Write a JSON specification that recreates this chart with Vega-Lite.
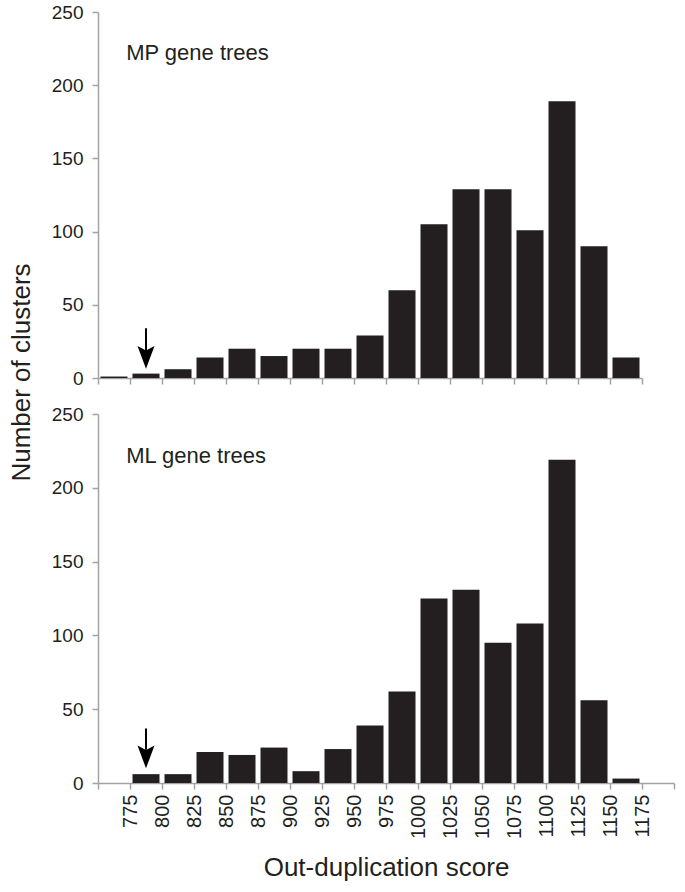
{
  "$schema": "https://vega.github.io/schema/vega-lite/v6.json",
  "background": "white",
  "padding": {"left": 8, "top": 3, "right": 5, "bottom": 5},
  "bounds": "flush",
  "spacing": 36,
  "config": {
    "font": "Liberation Sans",
    "view": {"stroke": null},
    "axis": {
      "grid": false,
      "domainColor": "#a3a3a3",
      "tickColor": "#a3a3a3",
      "domainWidth": 1.5,
      "tickWidth": 1.5,
      "tickSize": 6,
      "labelColor": "#231f20",
      "titleColor": "#231f20",
      "labelFont": "Liberation Sans",
      "titleFont": "Liberation Sans",
      "labelFontSize": 19,
      "titleFontSize": 26,
      "titleFontWeight": "normal"
    }
  },
  "datasets": {
    "mp": [
      {"start": 750, "end": 775, "clusters": 1},
      {"start": 775, "end": 800, "clusters": 3},
      {"start": 800, "end": 825, "clusters": 6},
      {"start": 825, "end": 850, "clusters": 14},
      {"start": 850, "end": 875, "clusters": 20},
      {"start": 875, "end": 900, "clusters": 15},
      {"start": 900, "end": 925, "clusters": 20},
      {"start": 925, "end": 950, "clusters": 20},
      {"start": 950, "end": 975, "clusters": 29},
      {"start": 975, "end": 1000, "clusters": 60},
      {"start": 1000, "end": 1025, "clusters": 105},
      {"start": 1025, "end": 1050, "clusters": 129},
      {"start": 1050, "end": 1075, "clusters": 129},
      {"start": 1075, "end": 1100, "clusters": 101},
      {"start": 1100, "end": 1125, "clusters": 189},
      {"start": 1125, "end": 1150, "clusters": 90},
      {"start": 1150, "end": 1175, "clusters": 14}
    ],
    "ml": [
      {"start": 775, "end": 800, "clusters": 6},
      {"start": 800, "end": 825, "clusters": 6},
      {"start": 825, "end": 850, "clusters": 21},
      {"start": 850, "end": 875, "clusters": 19},
      {"start": 875, "end": 900, "clusters": 24},
      {"start": 900, "end": 925, "clusters": 8},
      {"start": 925, "end": 950, "clusters": 23},
      {"start": 950, "end": 975, "clusters": 39},
      {"start": 975, "end": 1000, "clusters": 62},
      {"start": 1000, "end": 1025, "clusters": 125},
      {"start": 1025, "end": 1050, "clusters": 131},
      {"start": 1050, "end": 1075, "clusters": 95},
      {"start": 1075, "end": 1100, "clusters": 108},
      {"start": 1100, "end": 1125, "clusters": 219},
      {"start": 1125, "end": 1150, "clusters": 56},
      {"start": 1150, "end": 1175, "clusters": 3}
    ],
    "one": [{}]
  },
  "vconcat": [
    {
      "width": 544,
      "height": 366,
      "layer": [
        {
          "data": {"name": "mp"},
          "mark": {"type": "bar", "color": "#231f20", "xOffset": 2.5, "x2Offset": -2.5},
          "encoding": {
            "x": {
              "field": "start",
              "type": "quantitative",
              "scale": {"domain": [750, 1175], "nice": false, "zero": false},
              "axis": {"values": [750, 775, 800, 825, 850, 875, 900, 925, 950, 975, 1000, 1025, 1050, 1075, 1100, 1125, 1150, 1175], "labels": false, "title": null}
            },
            "x2": {"field": "end"},
            "y": {
              "field": "clusters",
              "type": "quantitative",
              "scale": {"domain": [0, 250], "nice": false},
              "axis": {
                "values": [0, 50, 100, 150, 200, 250],
                "labelPadding": 9,
                "title": "Number of clusters",
                "titleAngle": -90,
                "titleAlign": "center",
                "titleBaseline": "alphabetic",
                "titleX": -69,
                "titleY": 360
              }
            },
            "y2": {"datum": 0}
          }
        },
        {
          "data": {"name": "one"},
          "mark": {"type": "text", "text": "MP gene trees", "align": "left", "baseline": "alphabetic", "fontSize": 22, "color": "#231f20", "font": "Liberation Sans"},
          "encoding": {
            "x": {"datum": 772, "type": "quantitative", "axis": {"values": [750, 775, 800, 825, 850, 875, 900, 925, 950, 975, 1000, 1025, 1050, 1075, 1100, 1125, 1150, 1175], "labels": false, "title": null}},
            "y": {"datum": 217, "type": "quantitative", "axis": {"values": [0, 50, 100, 150, 200, 250], "labelPadding": 9, "title": "Number of clusters", "titleAngle": -90, "titleAlign": "center", "titleBaseline": "alphabetic", "titleX": -69, "titleY": 360}}
          }
        },
        {
          "data": {"name": "one"},
          "mark": {"type": "rule", "color": "#000000", "strokeWidth": 2},
          "encoding": {
            "x": {"datum": 787.5, "type": "quantitative", "axis": {"values": [750, 775, 800, 825, 850, 875, 900, 925, 950, 975, 1000, 1025, 1050, 1075, 1100, 1125, 1150, 1175], "labels": false, "title": null}},
            "y": {"datum": 34, "type": "quantitative", "axis": {"values": [0, 50, 100, 150, 200, 250], "labelPadding": 9, "title": "Number of clusters", "titleAngle": -90, "titleAlign": "center", "titleBaseline": "alphabetic", "titleX": -69, "titleY": 360}},
            "y2": {"datum": 18.5}
          }
        },
        {
          "data": {"name": "one"},
          "mark": {"type": "point", "filled": true, "color": "#000000", "opacity": 1, "size": 289, "shape": "M0,1.35L-1,-1.35L0,-0.8L1,-1.35Z"},
          "encoding": {
            "x": {"datum": 787.5, "type": "quantitative", "axis": {"values": [750, 775, 800, 825, 850, 875, 900, 925, 950, 975, 1000, 1025, 1050, 1075, 1100, 1125, 1150, 1175], "labels": false, "title": null}},
            "y": {"datum": 14.1, "type": "quantitative", "axis": {"values": [0, 50, 100, 150, 200, 250], "labelPadding": 9, "title": "Number of clusters", "titleAngle": -90, "titleAlign": "center", "titleBaseline": "alphabetic", "titleX": -69, "titleY": 360}}
          }
        }
      ]
    },
    {
      "width": 576,
      "height": 369,
      "layer": [
        {
          "data": {"name": "ml"},
          "mark": {"type": "bar", "color": "#231f20", "xOffset": 2.5, "x2Offset": -2.5},
          "encoding": {
            "x": {
              "field": "start",
              "type": "quantitative",
              "scale": {"domain": [750, 1200], "nice": false, "zero": false},
              "axis": {
                "values": [750, 775, 800, 825, 850, 875, 900, 925, 950, 975, 1000, 1025, 1050, 1075, 1100, 1125, 1150, 1175, 1200],
                "format": "d",
                "labelExpr": "(datum.value == 750 || datum.value == 1200) ? '' : datum.label",
                "labelAngle": -90,
                "labelFontSize": 20,
                "labelPadding": 5,
                "labelOverlap": false,
                "labelFlush": false,
                "title": "Out-duplication score",
                "titlePadding": 16
              }
            },
            "x2": {"field": "end"},
            "y": {
              "field": "clusters",
              "type": "quantitative",
              "scale": {"domain": [0, 250], "nice": false},
              "axis": {"values": [0, 50, 100, 150, 200, 250], "labelPadding": 9, "title": null}
            },
            "y2": {"datum": 0}
          }
        },
        {
          "data": {"name": "one"},
          "mark": {"type": "text", "text": "ML gene trees", "align": "left", "baseline": "alphabetic", "fontSize": 22, "color": "#231f20", "font": "Liberation Sans"},
          "encoding": {
            "x": {"datum": 772, "type": "quantitative", "axis": {"values": [750, 775, 800, 825, 850, 875, 900, 925, 950, 975, 1000, 1025, 1050, 1075, 1100, 1125, 1150, 1175, 1200], "format": "d", "labelExpr": "(datum.value == 750 || datum.value == 1200) ? '' : datum.label", "labelAngle": -90, "labelFontSize": 20, "labelPadding": 5, "labelOverlap": false, "labelFlush": false, "title": "Out-duplication score", "titlePadding": 16}},
            "y": {"datum": 217, "type": "quantitative", "axis": {"values": [0, 50, 100, 150, 200, 250], "labelPadding": 9, "title": null}}
          }
        },
        {
          "data": {"name": "one"},
          "mark": {"type": "rule", "color": "#000000", "strokeWidth": 2},
          "encoding": {
            "x": {"datum": 787.5, "type": "quantitative", "axis": {"values": [750, 775, 800, 825, 850, 875, 900, 925, 950, 975, 1000, 1025, 1050, 1075, 1100, 1125, 1150, 1175, 1200], "format": "d", "labelExpr": "(datum.value == 750 || datum.value == 1200) ? '' : datum.label", "labelAngle": -90, "labelFontSize": 20, "labelPadding": 5, "labelOverlap": false, "labelFlush": false, "title": "Out-duplication score", "titlePadding": 16}},
            "y": {"datum": 37, "type": "quantitative", "axis": {"values": [0, 50, 100, 150, 200, 250], "labelPadding": 9, "title": null}},
            "y2": {"datum": 22.5}
          }
        },
        {
          "data": {"name": "one"},
          "mark": {"type": "point", "filled": true, "color": "#000000", "opacity": 1, "size": 289, "shape": "M0,1.35L-1,-1.35L0,-0.8L1,-1.35Z"},
          "encoding": {
            "x": {"datum": 787.5, "type": "quantitative", "axis": {"values": [750, 775, 800, 825, 850, 875, 900, 925, 950, 975, 1000, 1025, 1050, 1075, 1100, 1125, 1150, 1175, 1200], "format": "d", "labelExpr": "(datum.value == 750 || datum.value == 1200) ? '' : datum.label", "labelAngle": -90, "labelFontSize": 20, "labelPadding": 5, "labelOverlap": false, "labelFlush": false, "title": "Out-duplication score", "titlePadding": 16}},
            "y": {"datum": 17.7, "type": "quantitative", "axis": {"values": [0, 50, 100, 150, 200, 250], "labelPadding": 9, "title": null}}
          }
        }
      ]
    }
  ]
}
